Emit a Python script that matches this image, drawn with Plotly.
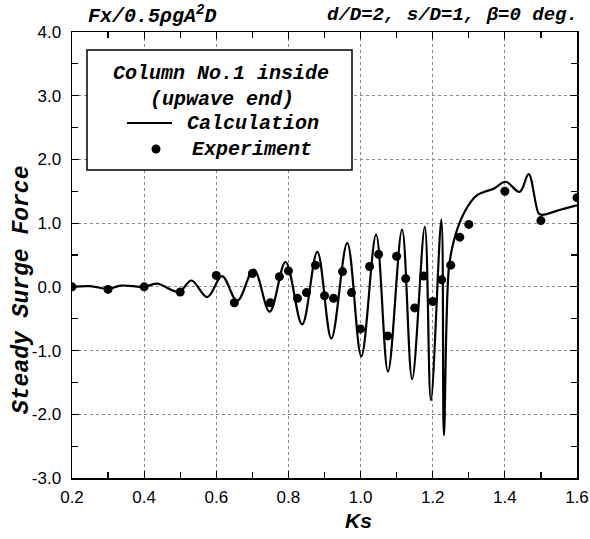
import plotly.graph_objects as go

# ---------------- data ----------------
calc_ks = [0.20, 0.25, 0.30, 0.335, 0.37, 0.40, 0.436, 0.496, 0.531, 0.575,
           0.616, 0.658, 0.704, 0.748, 0.792, 0.838, 0.880, 0.919, 0.963, 1.002,
           1.043, 1.076, 1.115, 1.143, 1.178, 1.195, 1.224, 1.231, 1.245, 1.259,
           1.277, 1.305, 1.323, 1.342, 1.369, 1.402, 1.441, 1.466, 1.494, 1.504,
           1.554, 1.600]
calc_f = [0.00, 0.01, -0.03, 0.02, 0.01, 0.00, 0.05, -0.08, 0.10, -0.16,
          0.17, -0.22, 0.27, -0.39, 0.39, -0.59, 0.55, -0.81, 0.69, -1.09,
          0.82, -1.33, 0.90, -1.45, 0.94, -1.78, 1.06, -2.33, 0.31, 0.73,
          1.04, 1.33, 1.44, 1.49, 1.54, 1.65, 1.49, 1.77, 1.15, 1.13,
          1.21, 1.28]

exp_ks = [0.20, 0.30, 0.40, 0.50, 0.60, 0.65, 0.70, 0.75, 0.775, 0.80,
          0.825, 0.85, 0.875, 0.90, 0.925, 0.95, 0.975, 1.00, 1.025, 1.05,
          1.075, 1.10, 1.125, 1.15, 1.175, 1.20, 1.225, 1.25, 1.275, 1.30,
          1.40, 1.50, 1.60]
exp_f = [0.00, -0.04, 0.00, -0.08, 0.18, -0.25, 0.21, -0.25, 0.16, 0.25,
         -0.18, -0.09, 0.34, -0.14, -0.18, 0.24, -0.09, -0.66, 0.32, 0.51,
         -0.77, 0.48, 0.13, -0.33, 0.17, -0.23, 0.11, 0.34, 0.78, 0.98,
         1.50, 1.04, 1.40]

x_tick_vals = [0.2, 0.4, 0.6, 0.8, 1.0, 1.2, 1.4, 1.6]
x_tick_text = ["0.2", "0.4", "0.6", "0.8", "1.0", "1.2", "1.4", "1.6"]
y_tick_vals = [-3, -2, -1, 0, 1, 2, 3, 4]
y_tick_text = ["-3.0", "-2.0", "-1.0", "0.0", "1.0", "2.0", "3.0", "4.0"]

# ---------------- layout constants ----------------
W, H = 590, 539
ML, MR, MT, MB = 72, 13, 32, 61
PW, PH = W - ML - MR, H - MT - MB

def px(x):
    """page pixel x -> paper coordinate"""
    return (x - ML) / PW

def py(y):
    """page pixel y -> paper coordinate"""
    return (H - MB - y) / PH

MONO = "Liberation Mono, Courier New, monospace"
SANS = "Liberation Sans, Arial, sans-serif"

fig = go.Figure()
fig.add_trace(go.Scatter(
    x=calc_ks, y=calc_f, mode="lines",
    line=dict(color="black", width=2.2, shape="spline", smoothing=1.0),
    showlegend=False, hoverinfo="skip"))
fig.add_trace(go.Scatter(
    x=exp_ks, y=exp_f, mode="markers",
    marker=dict(color="black", size=9, symbol="circle"),
    showlegend=False, hoverinfo="skip"))

axis_common = dict(
    showline=True, linecolor="black", linewidth=1.5, mirror="allticks",
    ticks="inside", ticklen=7, tickwidth=1.2, tickcolor="black",
    showgrid=True, gridcolor="#8a8a8a", gridwidth=1, griddash="dot",
    zeroline=False, automargin=False,
    tickfont=dict(family=SANS, size=17, color="black"),
)

fig.update_xaxes(range=[0.2, 1.6], tickvals=x_tick_vals, ticktext=x_tick_text,
                 minor=dict(dtick=0.1, tick0=0.2, ticks="inside", ticklen=6,
                            tickcolor="black", tickwidth=1.2, showgrid=False),
                 ticklabelstandoff=3, **axis_common)
fig.update_yaxes(range=[-3, 4], tickvals=y_tick_vals, ticktext=y_tick_text,
                 minor=dict(dtick=0.5, tick0=0, ticks="inside", ticklen=6,
                            tickcolor="black", tickwidth=1.2, showgrid=False),
                 ticklabelstandoff=6, **axis_common)

shapes = []
annotations = []

# legend box
shapes.append(dict(type="rect", xref="paper", yref="paper",
                   x0=px(87), x1=px(352), y0=py(170), y1=py(50),
                   line=dict(color="black", width=1.5), fillcolor="white",
                   layer="above"))
shapes.append(dict(type="line", xref="paper", yref="paper",
                   x0=px(127), x1=px(172), y0=py(123), y1=py(123),
                   line=dict(color="black", width=2.2), layer="above"))
shapes.append(dict(type="circle", xref="paper", yref="paper",
                   x0=px(151.5), x1=px(160.5), y0=py(153.5), y1=py(144.5),
                   line=dict(color="black", width=0), fillcolor="black",
                   layer="above"))

leg_font = dict(family=MONO, size=20, color="black")
annotations += [
    dict(text="<b><i>Column No.1 inside</i></b>", x=px(221), y=py(73),
         xanchor="center", yanchor="middle", font=leg_font),
    dict(text="<b><i>(upwave end)</i></b>", x=px(222), y=py(99),
         xanchor="center", yanchor="middle", font=leg_font),
    dict(text="<b><i>Calculation</i></b>", x=px(185), y=py(123),
         xanchor="left", yanchor="middle", font=leg_font),
    dict(text="<b><i>Experiment</i></b>", x=px(190), y=py(149),
         xanchor="left", yanchor="middle", font=leg_font),
]

# header texts
annotations += [
    dict(text="<b><i>Fx/0.5ρgA<sup>2</sup>D</i></b>", x=px(86), y=py(15),
         xanchor="left", yanchor="middle", font=dict(family=MONO, size=20, color="black")),
    dict(text="<b><i>d/D=2, s/D=1, β=0 deg.</i></b>", x=px(580), y=py(15),
         xanchor="right", yanchor="middle", font=dict(family=MONO, size=19, color="black")),
    # axis titles
    dict(text="<b><i>Ks</i></b>", x=px(358), y=py(520), xanchor="center",
         yanchor="middle", font=dict(family=SANS, size=21, color="black")),
    dict(text="<b><i>Steady Surge Force</i></b>", x=px(22), y=py(290), textangle=-90,
         xanchor="center", yanchor="middle", font=dict(family=MONO, size=23, color="black")),
]
for a in annotations:
    a.update(xref="paper", yref="paper", showarrow=False)

fig.update_layout(
    width=W, height=H, margin=dict(l=ML, r=MR, t=MT, b=MB),
    paper_bgcolor="white", plot_bgcolor="white",
    shapes=shapes, annotations=annotations, showlegend=False,
)

fig.write_html(
    "out.html",
    config={"displayModeBar": False, "staticPlot": True},
    post_script="document.body.style.margin='0px';document.body.style.overflow='hidden';",
)
